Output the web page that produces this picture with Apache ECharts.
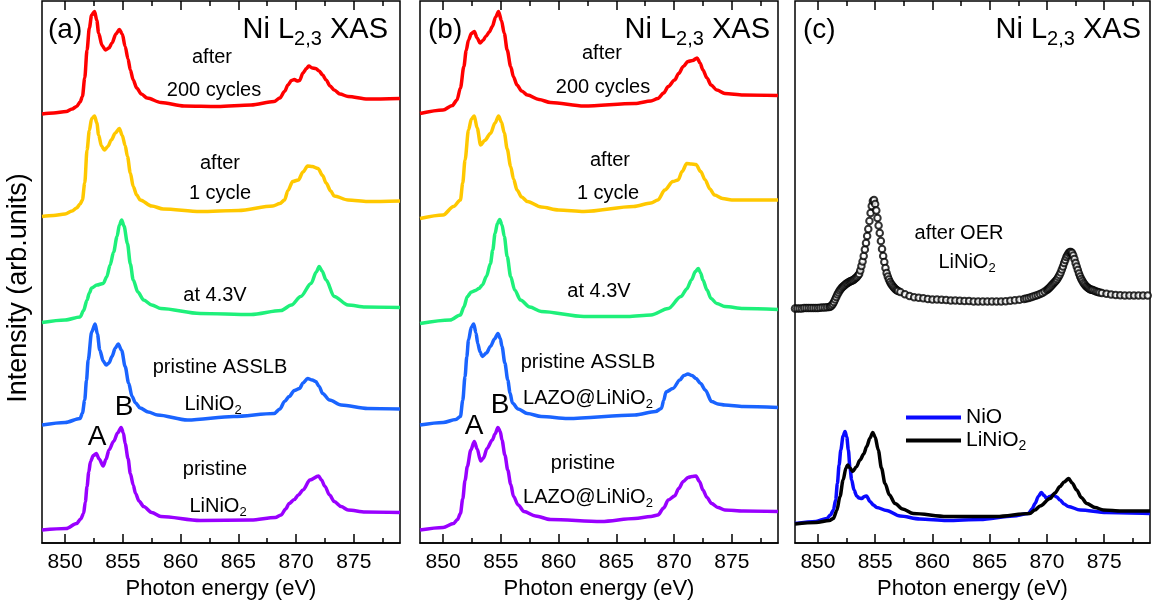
<!DOCTYPE html>
<html><head><meta charset="utf-8">
<script src="https://cdn.jsdelivr.net/npm/echarts@6/dist/echarts.min.js"></script>
<style>html,body{margin:0;padding:0;background:#fff}#c{width:1153px;height:606px}</style>
</head><body><div id="c"></div>
<script>
// ---------- data (photon energy eV, stacked intensity arb. units) ----------
const energyTicks = [850, 855, 860, 865, 870, 875];
const energyMinorTicks = [852.5, 857.5, 862.5, 867.5, 872.5, 877.5];

// panel (a)
const aAfter200 = [[848,85.8],[849,86.0],[850.1,86.3],[850.6,86.8],[851,87.3],[851.3,88.2],[851.5,89.3],[851.7,93],[851.9,98.6],[852.1,103],[852.3,105.6],[852.55,106.3],[852.75,104.5],[852.9,102.0],[853.2,99.5],[853.5,98.6],[853.8,99.0],[854.06,100.0],[854.4,101.8],[854.7,102.7],[854.95,101.8],[855.2,99.3],[855.45,96.8],[855.65,94.6],[855.9,92.6],[856.2,91.0],[856.6,89.8],[857.1,89.0],[858.3,88.1],[860.3,87.4],[863.2,87.3],[866.1,87.6],[868.1,88.3],[868.6,89.0],[869,90.3],[869.3,91.6],[869.6,92.5],[869.85,92.7],[870.1,92.4],[870.3,92.5],[870.6,94.0],[870.9,94.9],[871.1,95.4],[871.4,95.0],[871.7,94.9],[872,94.4],[872.3,93.6],[872.6,92.6],[872.95,91.4],[873.3,90.6],[873.8,89.8],[874.5,89.3],[876.2,88.8],[879,88.9]];
const aAfter1 = [[848,65.3],[849,65.5],[850,65.8],[850.6,66.4],[851,67.0],[851.3,67.8],[851.5,68.6],[851.7,72],[851.9,78.6],[852.1,82.5],[852.3,84.9],[852.55,85.4],[852.75,84.0],[852.9,81.6],[853.15,79.4],[853.4,78.6],[853.7,79.3],[854,80.6],[854.35,82.0],[854.7,82.9],[854.95,81.5],[855.2,79.5],[855.4,77.3],[855.65,74.0],[855.9,71.3],[856.2,69.6],[856.5,68.6],[857.5,67.4],[858.5,66.8],[861.7,66.3],[865,66.5],[868,67.4],[868.6,67.9],[869,68.6],[869.3,70.5],[869.7,72.3],[870.2,72.6],[870.6,74.2],[871,75.4],[871.4,75.3],[871.9,74.9],[872.3,73.5],[872.6,72.0],[873,70.4],[873.3,69.4],[874.5,68.6],[876.2,68.3],[879,68.4]];
const aCharged = [[848,44.1],[850,44.6],[851.3,45.2],[851.6,46.5],[851.9,48.6],[852.1,50.0],[852.3,51.0],[852.75,51.6],[853.3,51.9],[853.6,53.2],[853.9,55.6],[854.2,58.2],[854.5,61.3],[854.7,63.6],[854.9,64.6],[855.1,63.4],[855.4,59.9],[855.65,55.8],[855.9,52.6],[856.3,50.2],[856.8,48.6],[857.5,47.6],[858.3,46.9],[861.7,45.9],[866.1,45.7],[868.7,46.5],[869.6,47.6],[870.4,49.3],[871.3,51.9],[871.75,54.2],[872,55.3],[872.25,54.4],[872.6,52.6],[873.3,49.3],[874.5,47.6],[876,47.2],[879,47.1]];
const aPristineASSLB = [[848,23.6],[850,24.1],[851.3,24.9],[851.5,26.0],[851.7,28.6],[851.85,32.5],[852,36.6],[852.3,42.2],[852.6,43.8],[852.8,41.8],[853,38.6],[853.3,36.4],[853.55,35.6],[853.8,36.0],[854.06,37.3],[854.35,39.0],[854.6,39.8],[854.9,38.5],[855.2,35.3],[855.5,32.0],[855.8,29.3],[856.1,28.0],[856.5,27.0],[857.2,26.2],[858,25.6],[860.6,24.6],[864.6,25.3],[868.1,25.9],[868.6,26.8],[869,28.3],[869.4,29.3],[869.85,30.5],[870.3,30.9],[870.6,32.0],[871,32.9],[871.4,32.6],[871.7,32.3],[872,31.3],[872.3,29.9],[872.9,28.6],[873.9,27.6],[876.2,26.9],[879,26.8]];
const aPristine = [[848,2.6],[850.1,2.9],[851,3.9],[851.35,4.8],[851.6,5.9],[851.75,8.2],[851.9,11.3],[852.05,14.2],[852.2,16.3],[852.45,17.5],[852.7,17.9],[852.95,16.8],[853.3,15.4],[853.55,16.8],[853.8,18.6],[854.2,20.3],[854.55,22.0],[854.85,23.1],[855.05,22.0],[855.2,19.9],[855.45,16.9],[855.65,13.9],[855.9,11.6],[856.1,9.9],[856.4,8.4],[856.8,7.3],[857.5,6.1],[858.3,5.3],[861.7,4.5],[866.1,4.6],[868.2,5.1],[868.7,5.6],[869.1,6.8],[869.4,7.9],[869.85,8.7],[870.2,9.6],[870.6,10.6],[871.2,12.6],[871.95,13.4],[872.2,12.6],[872.5,11.3],[872.9,9.6],[873.3,8.3],[873.9,7.3],[874.5,6.6],[876,6.2],[879,6.1]];

// panel (b)
const bAfter200 = [[848,85.9],[850,86.6],[850.8,87.5],[851.2,88.6],[851.5,91.0],[851.8,95.3],[852,98.5],[852.2,100.6],[852.45,101.9],[852.7,102.3],[852.95,101.0],[853.2,100.0],[853.45,100.5],[853.7,101.3],[854,102.2],[854.26,103.3],[854.55,105.2],[854.8,106.3],[855.05,104.5],[855.3,101.9],[855.55,98.6],[855.85,95.3],[856.1,93.2],[856.4,91.6],[856.8,90.4],[857.3,89.6],[858.3,88.7],[859.3,88.1],[862.2,87.4],[866.6,87.9],[868,88.4],[868.6,88.9],[869.1,90.0],[869.5,91.3],[870.05,92.6],[870.4,93.9],[870.8,95.3],[871.2,96.3],[871.6,96.5],[872,97.0],[872.25,96.0],[872.5,94.6],[872.85,93.0],[873.2,91.6],[873.7,90.6],[874.4,89.9],[876,89.6],[879,89.5]];
const bAfter1 = [[848,64.9],[850,65.6],[850.9,67.3],[851.5,68.6],[851.7,72.0],[851.9,76.6],[852.2,82.6],[852.45,84.8],[852.7,85.4],[852.95,83.0],[853.25,79.6],[853.6,80.5],[854.1,81.9],[854.5,84.0],[854.8,85.4],[855.05,84.2],[855.3,82.0],[855.55,78.8],[855.85,75.3],[856.1,72.8],[856.4,70.6],[856.8,69.2],[857.3,68.3],[858.5,67.2],[860,66.6],[862.2,66.3],[866.5,67.3],[868,68.0],[868.6,68.6],[869.2,70.6],[869.9,72.3],[870.35,72.6],[870.7,74.3],[871.1,75.9],[871.5,75.8],[871.9,75.7],[872.3,74.3],[872.7,72.6],[873.1,70.8],[873.5,69.6],[874.2,68.9],[875,68.6],[879,68.6]];
const bCharged = [[848,43.9],[850.6,44.6],[851.5,45.6],[851.8,47.2],[852.1,49.3],[852.45,50.2],[852.8,50.5],[853.1,50.9],[853.4,51.6],[853.75,53.3],[854.1,55.9],[854.3,58.6],[854.5,61.9],[854.7,63.9],[854.9,64.7],[855.1,63.6],[855.3,61.3],[855.55,57.3],[855.85,53.3],[856.2,50.6],[856.7,48.6],[857.5,47.2],[858.5,46.3],[862.2,45.3],[866,45.3],[868,45.6],[869.5,46.9],[870.6,49.3],[871.1,50.8],[871.5,52.6],[871.85,54.3],[872.1,54.9],[872.3,54.0],[872.5,52.6],[872.85,50.6],[873.2,48.9],[873.7,47.9],[874.4,47.3],[876,46.9],[879,46.7]];
const bPristineASSLB = [[848,23.6],[850,24.1],[851.1,24.7],[851.5,25.3],[851.7,28.5],[851.9,33.3],[852.05,37.2],[852.2,40.6],[852.45,43.2],[852.65,43.8],[852.85,42.0],[853,39.9],[853.2,38.2],[853.4,37.3],[853.75,38.0],[854.1,39.3],[854.45,40.8],[854.75,41.9],[854.95,40.9],[855.1,39.3],[855.35,36.0],[855.6,32.6],[855.8,30.0],[856,28.0],[856.5,26.8],[857.3,25.9],[858.5,25.3],[860.8,24.9],[866.6,25.6],[868.4,26.3],[868.9,26.9],[869.1,28.5],[869.3,30.2],[869.9,30.9],[870.5,32.6],[870.85,33.5],[871.2,33.8],[871.55,33.5],[871.9,32.9],[872.3,31.9],[872.7,30.6],[873.25,28.3],[873.8,27.8],[874.4,27.6],[876,27.3],[879,27.1]];
const bPristine = [[848,2.6],[850,3.1],[850.9,3.9],[851.25,4.7],[851.5,5.9],[851.7,8.8],[851.9,12.5],[852.1,15.3],[852.4,18.6],[852.7,20.3],[852.95,18.8],[853.25,16.4],[853.5,17.0],[853.8,18.9],[854.26,20.6],[854.5,21.8],[854.75,23.1],[854.95,22.3],[855.1,20.6],[855.35,17.6],[855.6,14.6],[855.85,11.8],[856.1,9.3],[856.5,7.6],[857,6.3],[858,5.4],[859.3,4.7],[863.7,4.3],[866.6,4.9],[868,5.3],[868.6,5.6],[869.1,7.0],[869.5,8.6],[870.05,9.4],[870.4,10.9],[870.8,12.3],[871.2,13.1],[871.55,13.3],[871.9,13.4],[872.2,12.3],[872.5,10.6],[872.85,9.1],[873.25,7.9],[873.8,7.1],[874.4,6.6],[876,6.4],[879,6.3]];

// panel (c)
const cAfterOER = [[848,46.9],[848.2,46.9],[848.4,46.9],[848.6,46.9],[848.8,47.0],[849,47.0],[849.2,47.0],[849.4,47.0],[849.6,47.0],[849.8,47.0],[850,47.0],[850.2,47.05],[850.4,47.1],[850.6,47.1],[850.8,47.15],
 [851,47.2],[851.1,47.3],[851.2,47.5],[851.3,47.8],[851.4,48.2],[851.5,48.7],[851.6,49.2],[851.7,49.7],[851.8,50.1],[851.9,50.5],[852,50.8],[852.1,51.1],[852.2,51.3],[852.3,51.5],[852.4,51.7],[852.5,51.9],[852.6,52.0],[852.7,52.2],[852.8,52.3],[852.9,52.4],[853,52.5],[853.1,52.6],[853.2,52.8],[853.3,53.0],[853.4,53.2],[853.5,53.5],
 [853.6,53.8],[853.7,54.5],[853.8,55.4],[853.9,56.3],[854,57.4],[854.1,58.7],[854.2,60.0],[854.3,61.4],[854.4,62.8],[854.5,64.4],[854.6,66.0],[854.7,67.4],[854.8,68.4],[854.9,68.6],[855,67.8],[855.1,66.5],[855.2,65.0],[855.3,63.5],[855.4,62.0],[855.5,60.4],[855.6,58.8],[855.7,57.4],[855.8,56.2],[855.9,55.0],[856,54.0],[856.1,53.3],[856.2,52.7],[856.3,52.2],[856.4,51.8],[856.5,51.5],[856.6,51.2],[856.7,50.95],[856.8,50.7],[856.9,50.55],[857,50.4],
 [857.2,50.2],[857.6,49.75],[858,49.4],[858.4,49.15],[858.8,49.05],[859.2,48.95],[859.6,48.8],[860,48.7],[860.4,48.7],[860.8,48.65],[861.2,48.6],[861.6,48.5],[862,48.5],[862.4,48.45],[862.8,48.4],[863.2,48.4],[863.6,48.3],[864,48.3],[864.4,48.3],[864.8,48.3],[865.2,48.3],[865.6,48.3],[866,48.3],[866.4,48.35],[866.8,48.45],[867.2,48.55],[867.6,48.65],
 [868,48.8],[868.2,48.9],[868.4,49.0],[868.6,49.15],[868.8,49.3],[869,49.45],[869.2,49.6],[869.4,49.8],[869.6,50.0],[869.8,50.3],[870,50.6],[870.1,50.8],[870.2,51.0],[870.3,51.25],[870.4,51.5],[870.5,51.75],[870.6,52.0],[870.7,52.25],[870.8,52.5],[870.9,52.8],[871,53.2],[871.1,53.6],[871.2,54.1],[871.3,54.7],[871.4,55.3],[871.5,56.0],[871.6,56.6],[871.7,57.2],[871.8,57.6],[871.9,58.0],[872,58.2],[872.1,58.2],[872.2,58.0],[872.3,57.5],[872.4,56.8],[872.5,56.0],[872.6,55.3],[872.7,54.6],[872.8,53.9],[872.9,53.3],[873,52.8],[873.1,52.4],[873.2,52.0],[873.3,51.7],[873.4,51.4],[873.5,51.2],[873.6,51.0],[873.7,50.85],[873.8,50.7],[873.9,50.65],[874,50.6],[874.15,50.45],[874.3,50.3],[874.45,50.2],[874.6,50.1],
 [874.8,50.0],[875.2,49.85],[875.6,49.7],[876,49.6],[876.4,49.55],[876.8,49.5],[877.2,49.5],[877.6,49.5],[878,49.5],[878.4,49.5],[878.8,49.5]];
const cNiO = [[848,3.9],[849.83,4.3],[850.77,4.9],[851.1,5.6],[851.35,6.6],[851.55,8.6],[851.7,11.9],[851.85,15.6],[852,18.6],[852.2,21.4],[852.37,22.3],[852.52,21.2],[852.66,18.6],[852.8,15.0],[852.95,12.6],[853.15,10.6],[853.39,9.4],[853.6,9.0],[853.83,8.9],[854.05,9.3],[854.25,9.4],[854.55,8.3],[854.85,7.6],[855.14,7.1],[856,6.5],[857.17,5.4],[858.9,4.8],[861.25,4.5],[864.16,4.7],[867.07,5.4],[868.38,5.9],[868.7,6.8],[868.96,7.9],[869.25,9.3],[869.5,10.1],[869.75,9.5],[869.98,8.9],[870.25,9.3],[870.56,9.6],[870.85,9.2],[871.14,8.6],[871.5,7.8],[871.87,7.3],[872.9,6.6],[875.2,6.1],[879,5.9]];
const cLiNiO2 = [[848,3.8],[849.83,4.1],[851,4.5],[851.35,4.9],[851.65,6.5],[851.93,9.3],[852.2,12.6],[852.45,15.0],[852.6,15.6],[852.8,15.0],[853.04,14.3],[853.35,15.2],[853.68,16.6],[854,17.8],[854.26,19.3],[854.55,21.0],[854.79,22.1],[855,21.2],[855.27,18.6],[855.55,15.0],[855.86,11.9],[856.25,9.6],[856.73,7.9],[857.4,6.8],[858.33,5.9],[861.25,5.3],[865.6,5.3],[868.5,5.9],[868.95,6.6],[869.4,7.4],[870.27,8.9],[870.7,10.0],[871.14,11.3],[871.5,12.2],[871.9,12.9],[872.2,12.0],[872.6,10.6],[873,9.1],[873.48,7.9],[874.2,7.1],[874.93,6.6],[876.5,6.4],[879,6.4]];

const panelLetters = ['(a)', '(b)', '(c)'];
const xAxisTitle = 'Photon energy (eV)';
const yAxisTitle = 'Intensity (arb.units)';

// ---------- chart ----------
const FONT = '"Liberation Sans", Arial, Helvetica, sans-serif';
const grids = [
  {left: 42, top: 1, width: 358, height: 542},
  {left: 420, top: 1, width: 358, height: 542},
  {left: 795, top: 1, width: 355, height: 542}
];
const X_MIN = 848, X_MAX = 879, Y_MIN = 0, Y_MAX = 108.4;

const xAxes = [], yAxes = [];
grids.forEach((g, gi) => {
  const base = {gridIndex: gi, type: 'value', min: X_MIN, max: X_MAX, splitLine: {show: false}};
  xAxes.push(Object.assign({}, base, {
    position: 'bottom',
    axisLine: {show: true, lineStyle: {color: '#000', width: 1.5}},
    axisTick: {show: true, inside: true, length: 9, customValues: energyTicks, lineStyle: {color: '#000', width: 1.5}},
    axisLabel: {show: true, customValues: energyTicks, fontSize: 21, fontFamily: FONT, color: '#000', margin: 9},
    name: xAxisTitle, nameLocation: 'middle', nameGap: 35,
    nameTextStyle: {fontSize: 22, fontFamily: FONT, color: '#000'}
  }));
  xAxes.push(Object.assign({}, base, {
    position: 'bottom', axisLine: {show: false}, axisLabel: {show: false},
    axisTick: {show: true, inside: true, length: 5, customValues: energyMinorTicks, lineStyle: {color: '#000', width: 1.5}}
  }));
  xAxes.push(Object.assign({}, base, {
    position: 'top', axisLine: {show: false}, axisLabel: {show: false},
    axisTick: {show: true, inside: true, length: 9, customValues: energyTicks, lineStyle: {color: '#000', width: 1.5}}
  }));
  xAxes.push(Object.assign({}, base, {
    position: 'top', axisLine: {show: false}, axisLabel: {show: false},
    axisTick: {show: true, inside: true, length: 5, customValues: energyMinorTicks, lineStyle: {color: '#000', width: 1.5}}
  }));
  yAxes.push({gridIndex: gi, type: 'value', min: Y_MIN, max: Y_MAX, show: false});
});

function lineSeries(name, gi, data, color) {
  return {
    name, type: 'line', xAxisIndex: gi * 4, yAxisIndex: gi, data,
    showSymbol: false, symbol: 'none', smooth: 0.3, smoothMonotone: 'x',
    lineStyle: {color, width: 3.5}, itemStyle: {color},
    silent: true, animation: false
  };
}

const series = [
  lineSeries('a-pristine', 0, aPristine, '#9900ff'),
  lineSeries('a-asslb', 0, aPristineASSLB, '#1a64ff'),
  lineSeries('a-43V', 0, aCharged, '#1ef07a'),
  lineSeries('a-1cyc', 0, aAfter1, '#ffc800'),
  lineSeries('a-200cyc', 0, aAfter200, '#ff0000'),
  lineSeries('b-pristine', 1, bPristine, '#9900ff'),
  lineSeries('b-asslb', 1, bPristineASSLB, '#1a64ff'),
  lineSeries('b-43V', 1, bCharged, '#1ef07a'),
  lineSeries('b-1cyc', 1, bAfter1, '#ffc800'),
  lineSeries('b-200cyc', 1, bAfter200, '#ff0000'),
  lineSeries('NiO', 2, cNiO, '#0a0aff'),
  lineSeries('LiNiO2', 2, cLiNiO2, '#000000'),
  {
    name: 'after OER', type: 'scatter', xAxisIndex: 8, yAxisIndex: 2, data: cAfterOER,
    symbol: 'emptyCircle', symbolSize: 6.5,
    itemStyle: {color: '#000', borderColor: '#000', borderWidth: 1.5},
    silent: true, animation: false
  }
];

const subRich = (main, sub) => ({
  m: {fontSize: main, lineHeight: Math.round(main * 1.3), fontFamily: FONT, fill: '#000'},
  s: {fontSize: sub, lineHeight: sub, fontFamily: FONT, fill: '#000', verticalAlign: 'bottom'}
});
const titleRich = {
  m: {fontSize: 29, lineHeight: 39, fontFamily: FONT, fill: '#000'},
  s: {fontSize: 20, lineHeight: 20, fontFamily: FONT, fill: '#000', verticalAlign: 'bottom'}
};
function txt(x, y, text, size, align, rich) {
  const style = {text, fontSize: size, fontFamily: FONT, fill: '#000', align: align || 'center', verticalAlign: 'middle'};
  if (rich) style.rich = rich;
  return {type: 'text', x, y, silent: true, style};
}
const r20 = subRich(20, 13);

const graphic = [
  // panel letters and titles
  txt(48, 30, panelLetters[0], 28, 'left'),
  txt(428, 30, panelLetters[1], 28, 'left'),
  txt(803, 30, panelLetters[2], 28, 'left'),
  txt(388, 30, '{m|Ni L}{s|2,3}{m| XAS}', 29, 'right', titleRich),
  txt(770, 30, '{m|Ni L}{s|2,3}{m| XAS}', 29, 'right', titleRich),
  txt(1141, 30, '{m|Ni L}{s|2,3}{m| XAS}', 29, 'right', titleRich),
  // panel (a)
  txt(212, 57, 'after', 20),
  txt(214, 90, '200 cycles', 20),
  txt(220, 163, 'after', 20),
  txt(220, 193, '1 cycle', 20),
  txt(215, 295, 'at 4.3V', 20),
  txt(220, 367, 'pristine ASSLB', 20),
  txt(213, 404, '{m|LiNiO}{s|2}', 20, 'center', r20),
  txt(97, 437, 'A', 28),
  txt(124, 407, 'B', 28),
  txt(215, 469, 'pristine', 20),
  txt(218, 506, '{m|LiNiO}{s|2}', 20, 'center', r20),
  // panel (b)
  txt(602, 53, 'after', 20),
  txt(603, 87, '200 cycles', 20),
  txt(610, 160, 'after', 20),
  txt(608, 193, '1 cycle', 20),
  txt(599, 291, 'at 4.3V', 20),
  txt(588, 362, 'pristine ASSLB', 20),
  txt(588, 398, '{m|LAZO@LiNiO}{s|2}', 20, 'center', r20),
  txt(474, 426, 'A', 28),
  txt(500, 405, 'B', 28),
  txt(583, 463, 'pristine', 20),
  txt(588, 497, '{m|LAZO@LiNiO}{s|2}', 20, 'center', r20),
  // panel (c)
  txt(959, 233, 'after OER', 20),
  txt(967, 262, '{m|LiNiO}{s|2}', 20, 'center', r20),
  // y axis title
  {type: 'text', x: 19, y: 288, rotation: Math.PI / 2, silent: true,
   style: {text: yAxisTitle, fontSize: 27, fontFamily: FONT, fill: '#000', align: 'center', verticalAlign: 'middle'}}
];

const chart = echarts.init(document.getElementById('c'), null, {renderer: 'canvas'});
chart.setOption({
  animation: false,
  backgroundColor: '#fff',
  grid: grids.map(g => Object.assign({show: true, borderColor: '#000', borderWidth: 1.5, backgroundColor: 'transparent', containLabel: false}, g)),
  xAxis: xAxes,
  yAxis: yAxes,
  legend: {
    show: true, orient: 'vertical', left: 901, top: 402,
    data: ['NiO', 'LiNiO2'], icon: 'rect', itemWidth: 55, itemHeight: 4, itemGap: 2,
    selectedMode: false,
    formatter: n => n === 'LiNiO2' ? '{m|LiNiO}{s|2}' : '{m|NiO}',
    textStyle: {
      fontSize: 21, fontFamily: FONT, color: '#000',
      rich: {
        m: {fontSize: 21, lineHeight: 26, fontFamily: FONT, color: '#000'},
        s: {fontSize: 14, lineHeight: 14, fontFamily: FONT, color: '#000', verticalAlign: 'bottom'}
      }
    }
  },
  graphic,
  series
});
</script></body></html>
